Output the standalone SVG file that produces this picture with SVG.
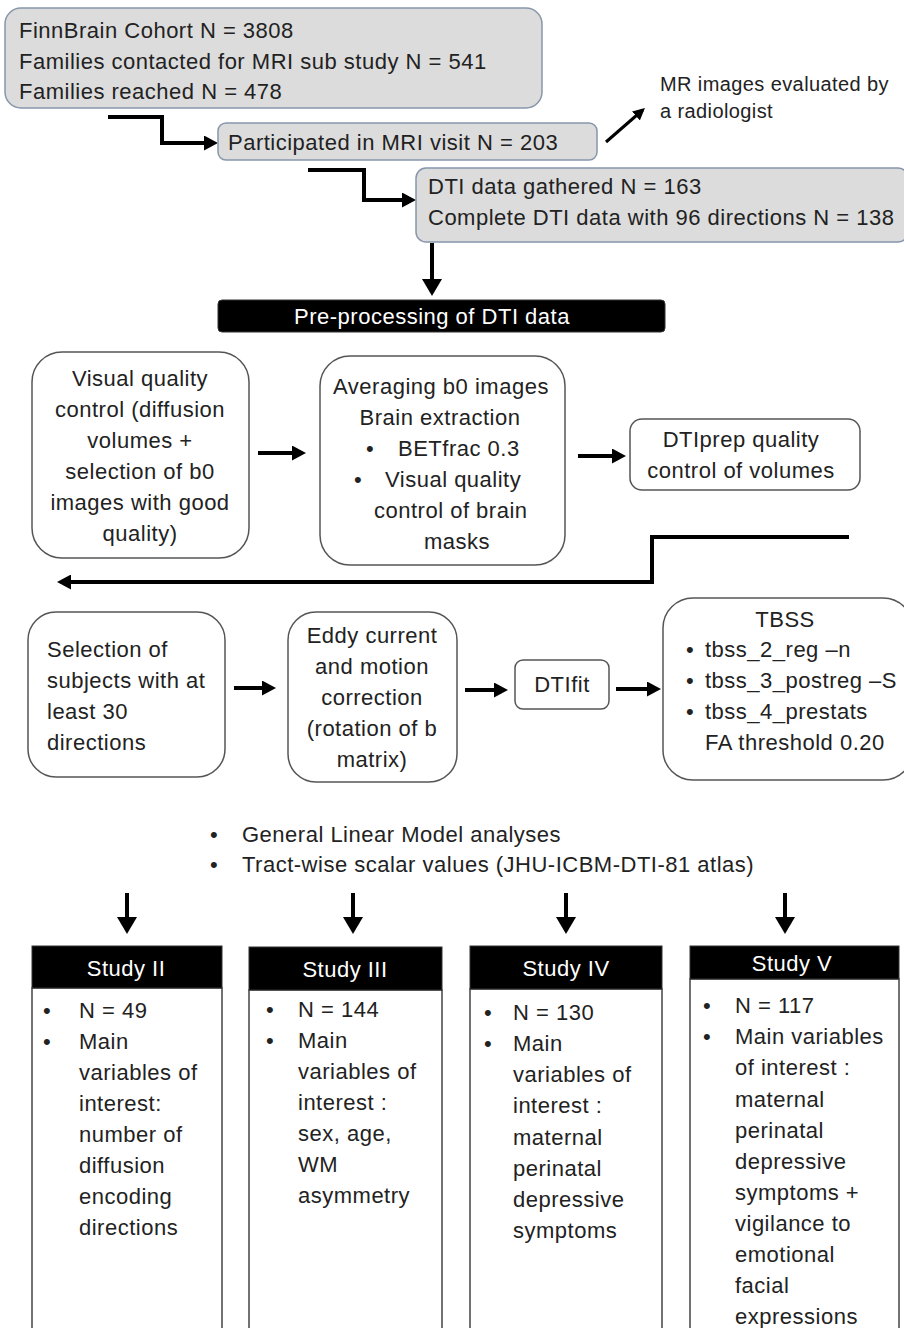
<svg xmlns="http://www.w3.org/2000/svg" width="904" height="1328" viewBox="0 0 904 1328">
<defs>
<marker id="big" viewBox="0 0 17 20" refX="13" refY="10" markerWidth="17" markerHeight="20" orient="auto" markerUnits="userSpaceOnUse">
<path d="M0,0 L17,10 L0,20 z" fill="#000"/>
</marker>
<marker id="med" viewBox="0 0 14 15" refX="10" refY="7.5" markerWidth="14" markerHeight="15" orient="auto" markerUnits="userSpaceOnUse">
<path d="M0,0 L14,7.5 L0,15 z" fill="#000"/>
</marker>
<marker id="sm" viewBox="0 0 12 12" refX="9" refY="6" markerWidth="12" markerHeight="12" orient="auto" markerUnits="userSpaceOnUse">
<path d="M0,0 L12,6 L0,12 z" fill="#000"/>
</marker>
</defs>
<style>
text{font-family:"Liberation Sans",Arial,sans-serif;font-size:22px;letter-spacing:0.5px;fill:#222}
.c{text-anchor:middle}
.w{fill:#fff}
.gray{fill:#dcdcdc;stroke:#8796aa;stroke-width:1.5}
.wb{fill:#fff;stroke:#555;stroke-width:1.5}
.hdr{fill:#000;stroke:#333;stroke-width:1}
.body{fill:#fff;stroke:#444;stroke-width:1.5}
.con{fill:none;stroke:#000;stroke-width:4}
.b{marker-end:url(#big)}
.m{marker-end:url(#med)}
.thin{fill:none;stroke:#000;stroke-width:3;marker-end:url(#sm)}
</style>
<rect width="904" height="1328" fill="#fff"/>

<g id="connectors">
<path class="con m" d="M108,117 H162 V143 H214"/>
<path class="thin" d="M606,142 L642.7,110"/>
<path class="con m" d="M308,170 H364 V200 H412"/>
<path class="con b" d="M432,243 V292"/>
<path class="con m" d="M258,453 H302"/>
<path class="con m" d="M578,456 H622"/>
<path class="con m" d="M849,537 H652 V582 H61"/>
<path class="con m" d="M234,688 H272"/>
<path class="con m" d="M465,690 H504"/>
<path class="con m" d="M616,689 H657"/>
<path class="con b" d="M127,893 V930"/>
<path class="con b" d="M353,893 V930"/>
<path class="con b" d="M566,893 V930"/>
<path class="con b" d="M785,893 V930"/>
</g>

<g id="cohort">
<rect class="gray" x="5" y="8" width="537" height="100" rx="16"/>
<text x="19" y="38">FinnBrain Cohort N = 3808</text>
<text x="19" y="69">Families contacted for MRI sub study N = 541</text>
<text x="19" y="99">Families reached N = 478</text>
</g>

<g id="mri-visit">
<rect class="gray" x="218" y="123" width="379" height="37" rx="8"/>
<text x="228" y="150">Participated in MRI visit N = 203</text>
</g>

<g id="radiologist">
<text x="660" y="91" style="font-size:20px;letter-spacing:0.4px">MR images evaluated by</text>
<text x="660" y="118" style="font-size:20px;letter-spacing:0.4px">a radiologist</text>
</g>

<g id="dti-gathered">
<rect class="gray" x="416" y="168" width="492" height="74" rx="10"/>
<text x="428" y="194">DTI data gathered N = 163</text>
<text x="428" y="225">Complete DTI data with 96 directions N = 138</text>
</g>

<g id="preprocessing">
<rect class="hdr" x="218" y="300" width="447" height="32" rx="4"/>
<text class="c w" x="432" y="324">Pre-processing of DTI data</text>
</g>

<g id="visual-qc">
<rect class="wb" x="32" y="352" width="217" height="206" rx="30"/>
<text class="c" x="140" y="386">Visual quality</text>
<text class="c" x="140" y="417">control (diffusion</text>
<text class="c" x="140" y="448">volumes +</text>
<text class="c" x="140" y="479">selection of b0</text>
<text class="c" x="140" y="510">images with good</text>
<text class="c" x="140" y="541">quality)</text>
</g>

<g id="averaging">
<rect class="wb" x="320" y="356" width="245" height="209" rx="30"/>
<text class="c" x="441" y="394">Averaging b0 images</text>
<text class="c" x="440" y="425">Brain extraction</text>
<text x="366" y="456">•</text>
<text x="398" y="456">BETfrac 0.3</text>
<text x="354" y="487">•</text>
<text x="385" y="487">Visual quality</text>
<text x="374" y="518">control of brain</text>
<text x="424" y="549">masks</text>
</g>

<g id="dtiprep">
<rect class="wb" x="630" y="419" width="230" height="71" rx="12"/>
<text class="c" x="741" y="447">DTIprep quality</text>
<text class="c" x="741" y="478">control of volumes</text>
</g>

<g id="selection">
<rect class="wb" x="28" y="612" width="197" height="165" rx="28"/>
<text x="47" y="657">Selection of</text>
<text x="47" y="688">subjects with at</text>
<text x="47" y="719">least 30</text>
<text x="47" y="750">directions</text>
</g>

<g id="eddy">
<rect class="wb" x="288" y="612" width="169" height="170" rx="28"/>
<text class="c" x="372" y="643">Eddy current</text>
<text class="c" x="372" y="674">and motion</text>
<text class="c" x="372" y="705">correction</text>
<text class="c" x="372" y="736">(rotation of b</text>
<text class="c" x="372" y="767">matrix)</text>
</g>

<g id="dtifit">
<rect class="wb" x="515" y="660" width="94" height="49" rx="8"/>
<text class="c" x="562" y="692">DTIfit</text>
</g>

<g id="tbss">
<rect class="wb" x="663" y="598" width="250" height="182" rx="30"/>
<text class="c" x="785" y="627">TBSS</text>
<text x="686" y="657">•</text>
<text x="705" y="657">tbss_2_reg –n</text>
<text x="686" y="688">•</text>
<text x="705" y="688">tbss_3_postreg –S</text>
<text x="686" y="719">•</text>
<text x="705" y="719">tbss_4_prestats</text>
<text x="705" y="750">FA threshold 0.20</text>
</g>

<g id="analyses">
<text x="210" y="842">•</text>
<text x="242" y="842">General Linear Model analyses</text>
<text x="210" y="872">•</text>
<text x="242" y="872">Tract-wise scalar values (JHU-ICBM-DTI-81 atlas)</text>
</g>

<g id="study2">
<rect class="body" x="32" y="988" width="190" height="360"/>
<rect class="hdr" x="32" y="946" width="190" height="42"/>
<text class="c w" x="126" y="976">Study II</text>
<text x="43" y="1018">•</text><text x="79" y="1018">N = 49</text>
<text x="43" y="1049">•</text><text x="79" y="1049">Main</text>
<text x="79" y="1080">variables of</text>
<text x="79" y="1111">interest:</text>
<text x="79" y="1142">number of</text>
<text x="79" y="1173">diffusion</text>
<text x="79" y="1204">encoding</text>
<text x="79" y="1235">directions</text>
</g>

<g id="study3">
<rect class="body" x="249" y="990" width="193" height="360"/>
<rect class="hdr" x="249" y="947" width="193" height="43"/>
<text class="c w" x="345" y="977">Study III</text>
<text x="266" y="1017">•</text><text x="298" y="1017">N = 144</text>
<text x="266" y="1048">•</text><text x="298" y="1048">Main</text>
<text x="298" y="1079">variables of</text>
<text x="298" y="1110">interest :</text>
<text x="298" y="1141">sex, age,</text>
<text x="298" y="1172">WM</text>
<text x="298" y="1203">asymmetry</text>
</g>

<g id="study4">
<rect class="body" x="470" y="989" width="192" height="360"/>
<rect class="hdr" x="470" y="946" width="192" height="43"/>
<text class="c w" x="566" y="976">Study IV</text>
<text x="484" y="1020">•</text><text x="513" y="1020">N = 130</text>
<text x="484" y="1051">•</text><text x="513" y="1051">Main</text>
<text x="513" y="1082">variables of</text>
<text x="513" y="1113">interest :</text>
<text x="513" y="1145">maternal</text>
<text x="513" y="1176">perinatal</text>
<text x="513" y="1207">depressive</text>
<text x="513" y="1238">symptoms</text>
</g>

<g id="study5">
<rect class="body" x="690" y="979" width="209" height="370"/>
<rect class="hdr" x="690" y="946" width="209" height="33"/>
<text class="c w" x="792" y="971">Study V</text>
<text x="703" y="1013">•</text><text x="735" y="1013">N = 117</text>
<text x="703" y="1044">•</text><text x="735" y="1044">Main variables</text>
<text x="735" y="1075">of interest :</text>
<text x="735" y="1107">maternal</text>
<text x="735" y="1138">perinatal</text>
<text x="735" y="1169">depressive</text>
<text x="735" y="1200">symptoms +</text>
<text x="735" y="1231">vigilance to</text>
<text x="735" y="1262">emotional</text>
<text x="735" y="1293">facial</text>
<text x="735" y="1324">expressions</text>
</g>
</svg>
